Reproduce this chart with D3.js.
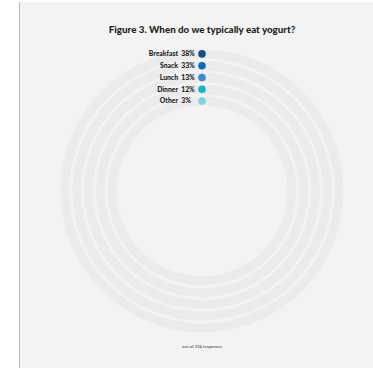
<!DOCTYPE html>
<html>
<head>
<meta charset="utf-8">
<script src="https://cdn.jsdelivr.net/npm/d3@7"></script>
<style>
  html, body { margin: 0; padding: 0; background: #ffffff; }
  svg { display: block; }
  text { font-family: Lato, "Open Sans", sans-serif; }
</style>
</head>
<body>
<svg id="chart" width="373" height="368"></svg>
<script>
// Meal occasions for eating yogurt (share of respondents)
const categories = ["Breakfast", "Snack", "Lunch", "Dinner", "Other"];
const shares = [38, 33, 13, 12, 3];
const colors = ["#154f8a", "#1068b9", "#3a8bd0", "#16b2cf", "#7fd3de"];
const titleText = "Figure 3. When do we typically eat yogurt?";
const footText = "out of 334 responses";

const W = 373, H = 368;
const cx = 202, cy = 191;
const rInner = 85.5, rOuter = 141.5;

const svg = d3.select("#chart");

// Panel background with a thin rule on its left edge
svg.append("rect").attr("x", 20).attr("y", 2).attr("width", W - 20).attr("height", H - 2)
  .attr("fill", "#f3f3f3");
svg.append("line").attr("x1", 19.5).attr("x2", 19.5).attr("y1", 2).attr("y2", H)
  .attr("stroke", "#b8b8b8").attr("stroke-width", 1);

// One concentric ring per category, outermost first
const r = d3.scaleBand().domain(categories).range([rOuter, rInner]).paddingInner(0.25);
const color = d3.scaleOrdinal().domain(categories).range(colors);

const arc = d3.arc()
  .innerRadius(d => r(d))
  .outerRadius(d => r(d) + r.bandwidth())
  .startAngle(0)
  .endAngle(2 * Math.PI);

const g = svg.append("g").attr("transform", `translate(${cx},${cy})`);

g.selectAll("path.track")
  .data(categories)
  .join("path")
  .attr("class", "track")
  .attr("d", arc)
  .attr("fill", "#ebebeb");

// Legend sitting at the top of each ring
const legend = g.selectAll("g.item")
  .data(categories.map((c, i) => ({ cat: c, share: shares[i] })))
  .join("g")
  .attr("class", "item")
  .attr("transform", d => `translate(0,${-(r(d.cat) + r.bandwidth() / 2)})`);

legend.append("circle")
  .attr("r", 3.8)
  .attr("fill", d => color(d.cat));

legend.append("text")
  .attr("x", -24)
  .attr("y", 2.4)
  .attr("text-anchor", "end")
  .attr("font-size", 6.8)
  .attr("font-weight", 900)
  .attr("fill", "#222")
  .text(d => d.cat);

legend.append("text")
  .attr("x", -20.8)
  .attr("y", 2.4)
  .attr("text-anchor", "start")
  .attr("font-size", 6.8)
  .attr("font-weight", 900)
  .attr("fill", "#222")
  .text(d => d.share + "%");

// Title and footnote
svg.append("text")
  .attr("x", cx)
  .attr("y", 33)
  .attr("text-anchor", "middle")
  .attr("font-size", 9.8)
  .attr("font-weight", 900)
  .attr("fill", "#1d1d1d")
  .text(titleText);

svg.append("text")
  .attr("x", cx)
  .attr("y", 347.5)
  .attr("text-anchor", "middle")
  .attr("font-size", 4.3)
  .attr("fill", "#333")
  .text(footText);
</script>
</body>
</html>
